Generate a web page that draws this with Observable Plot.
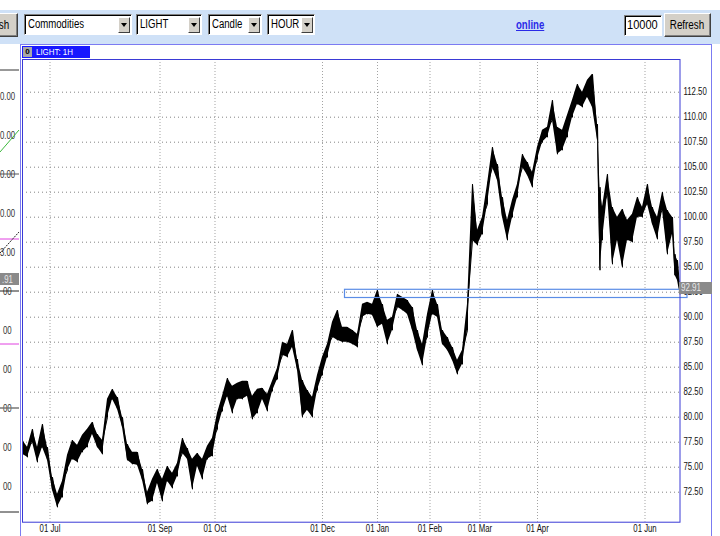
<!DOCTYPE html>
<html><head><meta charset="utf-8">
<script src="https://cdn.jsdelivr.net/npm/d3@7"></script>
<script src="https://cdn.jsdelivr.net/npm/@observablehq/plot@0.6"></script>
<style>
html,body{margin:0;padding:0;width:720px;height:536px;overflow:hidden;background:#fff;}
body{position:relative;font-family:"Liberation Sans",Arial,sans-serif;}
.n{display:inline-block;transform:scaleX(0.8);transform-origin:0 50%;white-space:nowrap;}
.nc{display:inline-block;transform:scaleX(0.82);transform-origin:50% 50%;white-space:nowrap;}
#toolbar{position:absolute;left:0;top:10px;width:720px;height:34px;background:#cfe1f7;}
.btn{position:absolute;background:#d4d0c8;border-top:1px solid #fff;border-left:1px solid #fff;border-right:1px solid #404040;border-bottom:1px solid #404040;box-shadow:inset -1px -1px 0 #808080;font-size:12px;color:#000;text-align:center;box-sizing:border-box;}
.sel{position:absolute;top:14px;height:21px;background:#fff;border-top:1px solid #808080;border-left:1px solid #808080;border-right:1px solid #fff;border-bottom:1px solid #fff;box-shadow:inset 1px 1px 0 #000;box-sizing:border-box;font-size:12px;line-height:19px;padding-left:3px;color:#000;}
.sel .arr{position:absolute;right:1px;top:2px;width:12px;height:16px;background:#d4d0c8;border-top:1px solid #fff;border-left:1px solid #fff;border-right:1px solid #404040;border-bottom:1px solid #404040;box-sizing:border-box;}
.sel .arr:after{content:"";position:absolute;left:2px;top:5px;border-left:3px solid transparent;border-right:3px solid transparent;border-top:4px solid #000;}
#panel{position:absolute;left:20px;top:44px;width:692px;height:500px;border-top:1.5px solid #7b7bf2;border-left:1px solid #7b7bf2;border-right:1.5px solid #7b7bf2;box-sizing:border-box;}
#tab{position:absolute;left:22px;top:46px;width:68px;height:12px;background:#1818ff;}
#tab .ic{position:absolute;left:1px;top:1px;width:9px;height:10px;background:#a8a8a8;font-size:8px;line-height:10px;text-align:center;color:#000;font-weight:bold;}
#tab .t{position:absolute;left:14px;top:0px;font-size:9px;line-height:12px;color:#fff;}
#chart{position:absolute;left:22px;top:59px;}
#last{position:absolute;background:#8a8a8a;color:#e8e8e8;font-size:10px;line-height:12px;padding-left:2px;box-sizing:border-box;overflow:hidden;}
#left{position:absolute;left:0;top:44px;}
</style></head>
<body>
<div id="toolbar"></div>
<div class="btn" style="left:-34px;top:13px;width:52px;height:24px;line-height:22px;"><span class="nc">Refresh</span></div>
<div class="sel" style="left:24px;width:108px;"><span class="n">Commodities</span><div class="arr"></div></div>
<div class="sel" style="left:136px;width:66px;"><span class="n">LIGHT</span><div class="arr"></div></div>
<div class="sel" style="left:208px;width:54px;"><span class="n">Candle</span><div class="arr"></div></div>
<div class="sel" style="left:267px;width:48px;"><span class="n">HOUR</span><div class="arr"></div></div>
<div style="position:absolute;left:516px;top:18px;font-size:12px;font-weight:bold;color:#2a2ae8;"><span class="n" style="text-decoration:underline;">online</span></div>
<div class="sel" style="left:624px;top:15px;width:38px;padding-left:2px;"><span class="n" style="transform:scaleX(0.92)">10000</span></div>
<div class="btn" style="left:664px;top:13px;width:47px;height:24px;line-height:22px;"><span class="nc">Refresh</span></div>
<div id="panel"></div>
<svg id="left" width="20" height="492"></svg>
<div id="tab"><div class="ic">0</div><div class="t"><span class="n" style="transform:scaleX(0.88)">LIGHT: 1H</span></div></div>
<div id="chart"></div>
<script>
// ---- data ----
const startDate = "2010-06-16";
const holidays = ["2010-12-24"];
const tickDates = ["2010-07-01","2010-09-01","2010-10-01","2010-12-01","2011-01-01","2011-02-01","2011-03-01","2011-04-01","2011-06-01"];
const yTicks = [72.5,75,77.5,80,82.5,85,87.5,90,92.5,95,97.5,100,102.5,105,107.5,110,112.5];
// trading-session index of each sample
const day = [0,2,4,6,8,10,12,14,16,18,20,22,24,26,28,30,32,34,36,38,40,42,44,46,48,50,52,54,56,58,60,62,64,66,68,70,72,74,76,78,80,82,84,86,88,90,92,94,96,98,100,102,104,106,108,110,112,114,116,118,120,122,124,126,128,130,132,134,136,138,140,142,144,146,148,150,152,154,156,158,160,162,164,166,168,170,172,174,176,178,180,182,184,186,188,190,192,194,196,198,200,202,204,206,208,210,212,214,216,218,220,222,224,226,228,230,231,232,234,236,238,240,242,244,246,248,250,252,254,256,258,260,261,262,263];
const low = [76.3,76.0,77.5,75.5,77.0,75.7,72.7,71.0,72.0,74.7,75.8,75.5,76.5,77.0,78.3,77.0,76.3,80.0,81.8,80.8,79.0,75.7,75.3,75.2,73.7,71.3,71.6,73.4,71.6,73.6,72.9,74.1,76.4,75.8,72.8,75.1,73.8,75.8,76.1,78.8,80.6,82.1,80.4,81.8,81.8,82.1,79.8,80.4,81.8,80.6,82.6,83.8,86.2,86.0,87.0,84.7,80.0,80.7,80.0,82.7,84.2,86.0,88.0,87.7,87.5,87.5,87.3,87.0,90.0,90.3,90.2,89.0,89.3,87.3,88.7,91.0,90.7,90.3,88.7,86.7,85.2,88.0,90.3,90.0,87.3,86.7,85.7,84.3,85.3,88.7,97.7,97.2,98.3,101.3,105.0,103.7,100.0,97.7,100.0,102.0,105.0,104.2,103.0,105.8,107.5,108.0,109.7,106.3,106.7,108.0,110.0,111.3,111.0,112.0,111.0,107.7,94.7,97.7,102.3,95.3,97.7,95.0,97.7,97.5,100.0,100.0,101.3,99.3,97.8,100.7,96.3,98.3,94.2,93.7,92.3];
const high = [77.7,77.0,78.8,77.0,79.3,77.0,74.0,72.3,73.6,76.2,77.7,77.2,78.2,78.8,79.5,78.3,77.7,81.8,82.8,82.0,80.0,77.3,76.5,76.5,74.8,72.5,73.8,74.8,73.8,75.1,74.4,75.4,77.9,76.9,75.8,76.4,75.8,77.1,77.9,80.4,82.1,83.9,83.1,83.4,83.6,83.6,82.1,82.8,82.9,82.3,83.6,84.9,87.5,87.3,88.7,85.8,83.7,82.7,82.0,84.2,86.0,87.3,89.5,90.7,89.0,89.0,88.7,88.3,91.3,91.5,91.3,92.7,91.3,89.7,90.0,92.3,92.0,91.7,91.0,88.7,87.3,90.3,92.7,91.3,88.7,88.0,87.0,85.7,86.7,91.3,103.3,98.7,100.0,103.3,107.0,105.3,102.0,99.7,101.7,103.3,106.3,105.5,104.5,107.0,108.7,109.0,111.7,109.0,108.7,110.2,111.7,113.3,112.5,113.7,114.3,109.3,103.0,101.0,104.3,101.0,100.0,100.8,99.7,100.3,102.0,101.0,103.3,101.0,100.0,102.5,100.7,100.0,96.3,95.7,93.3];
const lastPrice = 92.91;
const zoneDays = [129, 266];
const zonePrices = [91.92, 92.74];

// ---- trading calendar (weekdays minus holidays) ----
const sessions = [];
for (let t = Date.parse(startDate); t <= Date.parse("2011-07-01"); t += 864e5) {
  const d = new Date(t), wd = d.getUTCDay();
  if (wd === 0 || wd === 6) continue;
  if (holidays.includes(d.toISOString().slice(0, 10))) continue;
  sessions.push(d);
}
const fmt = d3.utcFormat("%d %b");
const tickIdx = tickDates.map(s => sessions.findIndex(d => d >= new Date(s)));
const tickLabel = new Map(tickIdx.map((i, k) => [i, fmt(new Date(tickDates[k]))]));
const bars = day.map((d, k) => ({day: d, date: sessions[d], low: low[k], high: high[k]}));
const path = bars.flatMap(b => [{day: b.day, v: b.low}, {day: b.day, v: b.high}]);
const zone = [{x1: zoneDays[0], x2: zoneDays[1], y1: zonePrices[0], y2: zonePrices[1]}];

const font = '"Liberation Sans",Arial,sans-serif';
const plot = Plot.plot({
  width: 698, height: 477,
  marginLeft: 0, marginTop: 0, marginRight: 40.5, marginBottom: 14.3,
  x: {domain: [0, 263], axis: null},
  y: {domain: [69.5, 115.77], axis: null},
  style: {fontFamily: font, fontSize: "10px", color: "#111", background: "transparent", overflow: "visible"},
  marks: [
    Plot.gridY(yTicks, {stroke: "#777", strokeOpacity: 0.9, strokeDasharray: "1,3"}),
    Plot.gridX(tickIdx, {stroke: "#999", strokeOpacity: 0.9, strokeDasharray: "1,2"}),
    Plot.areaY(bars, {x: "day", y1: "low", y2: "high", fill: "#000"}),
    Plot.line(path, {x: "day", y: "v", stroke: "#000", strokeWidth: 1}),
    Plot.rect(zone, {x1: "x1", x2: "x2", y1: "y1", y2: "y2", fill: "none", stroke: "#5b8de6", strokeWidth: 1.2}),
    Plot.frame({stroke: "#3a3ad6"}),
    Plot.axisY(yTicks, {anchor: "right", tickSize: 0, tickPadding: 3.5, tickFormat: d3.format(".2f")}),
    Plot.axisX(tickIdx, {anchor: "bottom", tickSize: 0, tickPadding: 3, tickFormat: i => tickLabel.get(i)})
  ]
});
document.getElementById("chart").appendChild(plot);

// condense the axis labels (the original uses a narrow bitmap font)
function condense(sel, k) {
  sel.forEach(el => {
    const w = el.getComputedTextLength();
    if (w > 0) { el.setAttribute("textLength", (w * k).toFixed(1)); el.setAttribute("lengthAdjust", "spacingAndGlyphs"); }
  });
}
condense(plot.querySelectorAll("text"), 0.78);

// last-price tag positioned through the plot's own scales
const ly = plot.scale("y").apply(lastPrice) + 59;
const lx = plot.scale("x").apply(day[day.length - 1]) + 22;
const tag = document.createElement("div");
tag.id = "last";
tag.innerHTML = '<span class="n" style="transform:scaleX(0.8)">' + lastPrice.toFixed(2) + '</span>';
Object.assign(tag.style, {left: (lx - 1) + "px", top: (ly - 6) + "px", width: "33px", height: "12px"});
document.body.appendChild(tag);

// fragment of the neighbouring panel at the far left
const L = d3.select("#left");
const leftLabels = [["0.00",52],["0.00",91],["0.00",130],["0.00",169],["3.00",208],["00",247],["00",286],["00",325],["00",364],["00",403],["00",442]];
L.selectAll("text").data(leftLabels).join("text").attr("x", d => d[0].length > 2 ? 0 : 3).attr("y", d => d[1]).attr("dy", "0.35em")
  .attr("font-family", font).attr("font-size", 10).attr("fill", "#333").text(d => d[0]);
L.append("line").attr("x1",0).attr("x2",19).attr("y1",26).attr("y2",26).attr("stroke","#333");
L.append("line").attr("x1",0).attr("x2",19).attr("y1",130).attr("y2",130).attr("stroke","#555");
L.append("line").attr("x1",0).attr("x2",19).attr("y1",247).attr("y2",247).attr("stroke","#222");
L.append("line").attr("x1",0).attr("x2",19).attr("y1",364).attr("y2",364).attr("stroke","#777").attr("stroke-width",1.5);
L.append("line").attr("x1",0).attr("x2",19).attr("y1",468).attr("y2",468).attr("stroke","#222");
L.append("line").attr("x1",0).attr("x2",19).attr("y1",195).attr("y2",195).attr("stroke","#e040e0");
L.append("line").attr("x1",0).attr("x2",19).attr("y1",300).attr("y2",300).attr("stroke","#e040e0");
L.append("line").attr("x1",0).attr("x2",19).attr("y1",108).attr("y2",86).attr("stroke","#3cb83c");
L.append("line").attr("x1",0).attr("x2",19).attr("y1",209).attr("y2",188).attr("stroke","#222").attr("stroke-dasharray","2,1");
L.append("rect").attr("x",0).attr("y",229).attr("width",19).attr("height",12).attr("fill","#8a8a8a");
L.append("text").attr("x",2).attr("y",235).attr("dy","0.35em").attr("font-family",font).attr("font-size",10).attr("fill","#e8e8e8").text(".91");
condense(document.querySelectorAll("#left text"), 0.78);
</script>
</body></html>
